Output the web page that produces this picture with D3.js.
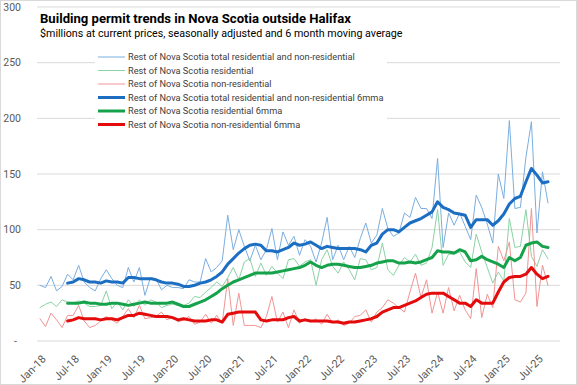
<!DOCTYPE html>
<html>
<head>
<meta charset="utf-8">
<script src="https://cdn.jsdelivr.net/npm/d3@7"></script>
<style>
  body { margin: 0; background: #fff; }
  text { font-family: Roboto, "Liberation Sans", sans-serif; }
</style>
</head>
<body>
<script>
// months Jan-18 .. Sep-25
const monthNames = ["Jan","Feb","Mar","Apr","May","Jun","Jul","Aug","Sep","Oct","Nov","Dec"]
const years = ["18","19","20","21","22","23","24","25"]
const months = []
years.forEach(yr => monthNames.forEach(m => months.push(m + "-" + yr)))
months.splice(93)

// $ millions
const totalRaw = [50,48,58,45,49,60,55,68,53,48,45,56,64,56,50,48,66,53,66,41,
  57,56,46,50,48,48,47,55,53,53,74,62,66,72,113,82,100,85,72,86,
  73,82,101,73,98,86,94,77,91,85,71,88,111,73,86,73,85,75,92,106,
  88,95,119,101,94,97,115,111,129,119,119,110,164,84,115,104,115,103,91,131,
  120,105,88,150,128,198,119,120,165,197,97,152,124]
const resRaw = [30,33,35,31,37,35,34,36,34,31,31,32,45,29,35,28,37,31,37,32,
  37,35,30,32,33,32,32,34,40,39,44,48,53,49,57,66,55,71,74,58,
  70,59,67,61,56,73,74,67,71,73,50,73,82,67,61,71,64,55,74,73,
  64,66,88,64,59,68,75,71,78,68,70,84,118,68,78,78,80,71,66,96,
  80,66,52,62,54,110,84,85,118,76,67,82,74]
const nonresRaw = [20,13,25,19,12,23,23,32,18,12,14,18,22,19,16,22,29,21,32,20,
  21,22,26,19,22,17,19,22,15,17,24,16,23,16,56,14,43,14,14,14,
  12,22,40,17,26,12,28,16,20,17,20,15,24,16,19,14,16,22,23,28,
  17,26,30,37,34,30,26,44,61,39,55,25,44,25,48,27,41,28,20,65,
  21,42,30,85,72,89,37,35,43,119,31,68,50]
const totalMA = [null,null,null,null,null,52,53,56,55,53,53,52,54,53,53,52,57,57,56,56,
  56,55,53,52,52,51,49,49,50,52,53,55,58,62,69,74,79,83,86,87,
  86,81,81,80,82,84,88,86,87,89,86,83,85,84,83,83,83,83,82,80,
  86,88,96,100,100,98,102,106,108,110,113,116,125,120,118,115,114,113,102,109,
  109,109,104,108,114,123,128,130,143,155,149,142,143]
const resMA = [null,null,null,null,null,34,34,34,35,34,34,33,33,34,34,33,32,33,34,35,
  34,34,34,34,35,33,31,31,33,35,37,40,43,47,50,53,55,57,59,61,
  61,61,61,62,63,64,65,66,68,71,68,66,68,69,69,68,67,66,66,67,
  68,70,71,72,72,70,70,71,70,71,73,75,81,80,80,79,82,80,72,73,
  76,73,71,69,66,75,72,75,86,88,89,85,84]
const nonresMA = [null,null,null,null,null,18,19,21,20,20,20,19,20,20,19,21,23,23,25,24,
  23,22,22,22,21,19,20,19,18,18,18,19,19,17,24,25,26,26,26,26,
  19,18,19,19,19,21,22,18,19,18,18,18,18,17,17,16,17,17,18,19,
  20,22,26,28,30,30,32,34,36,39,42,43,43,43,40,37,34,34,31,37,
  34,34,34,44,53,57,58,58,60,66,60,56,58]

const yTicks = [0,50,100,150,200,250,300]
const xTickLabels = months.filter((m, i) => i % 6 === 0)

const series = [
  {name: "Rest of Nova Scotia total residential and non-residential", values: totalRaw, color: "#7aaee0", width: 1},
  {name: "Rest of Nova Scotia residential", values: resRaw, color: "#8bd2a5", width: 1},
  {name: "Rest of Nova Scotia non-residential", values: nonresRaw, color: "#f09494", width: 1},
  {name: "Rest of Nova Scotia total residential and non-residential 6mma", values: totalMA, color: "#1b6ec2", width: 3},
  {name: "Rest of Nova Scotia residential 6mma", values: resMA, color: "#16a24a", width: 3},
  {name: "Rest of Nova Scotia non-residential 6mma", values: nonresMA, color: "#e30b0b", width: 3}
]

const W = 577, H = 385
const svg = d3.select("body").append("svg")
    .attr("width", W)
    .attr("height", H)

svg.append("rect")
    .attr("x", 0.5).attr("y", 0.5)
    .attr("width", W - 1).attr("height", H - 1)
    .attr("fill", "#fff")
    .attr("stroke", "#d9d9d9")

const x = d3.scalePoint().domain(months).range([40, 548])
const y = d3.scaleLinear().domain([0, 300]).range([341, 7])

// gridlines
svg.append("g")
    .selectAll("line")
    .data(yTicks)
    .enter()
    .append("line")
    .attr("x1", 37).attr("x2", 560)
    .attr("y1", d => y(d)).attr("y2", d => y(d))
    .attr("stroke", "#d9d9d9")
    .attr("stroke-width", 1)

svg.append("g")
    .selectAll("text")
    .data(yTicks)
    .enter()
    .append("text")
    .attr("x", d => d === 0 ? 17 : 21)
    .attr("y", d => y(d))
    .attr("dy", "0.35em")
    .attr("text-anchor", "end")
    .attr("font-size", "10.5px")
    .attr("fill", "#595959")
    .text(d => d === 0 ? "-" : d)

svg.append("g")
    .selectAll("text")
    .data(xTickLabels)
    .enter()
    .append("text")
    .attr("transform", d => "translate(" + (x(d) + 4) + ",357) rotate(-45)")
    .attr("dy", "0.35em")
    .attr("text-anchor", "end")
    .attr("font-size", "11px")
    .attr("fill", "#595959")
    .text(d => d)

// lines
const line = d3.line()
    .defined(d => d[1] != null)
    .x(d => x(d[0]))
    .y(d => y(d[1]))

series.forEach(s => {
    svg.append("path")
        .datum(months.map((m, i) => [m, s.values[i]]))
        .attr("fill", "none")
        .attr("stroke", s.color)
        .attr("stroke-width", s.width)
        .attr("stroke-linejoin", "round")
        .attr("stroke-linecap", "round")
        .attr("d", line)
})

// fit a text to a target width
function fit(sel, target) {
    const w = sel.node().getComputedTextLength()
    const fs = parseFloat(sel.attr("font-size"))
    sel.attr("font-size", (fs * target / w).toFixed(2) + "px")
}

// legend
const legend = svg.append("g")
legend.append("rect")
    .attr("x", 95).attr("y", 50)
    .attr("width", 292).attr("height", 82)
    .attr("fill", "#fff")

series.forEach((s, i) => {
    const ly = 57 + i * 13.5
    legend.append("line")
        .attr("x1", 98).attr("x2", 125)
        .attr("y1", ly).attr("y2", ly)
        .attr("stroke", s.color)
        .attr("stroke-width", s.width)
    const t = legend.append("text")
        .attr("x", 128)
        .attr("y", ly)
        .attr("dy", "0.35em")
        .attr("font-size", "10px")
        .attr("fill", "#404040")
        .text(s.name)
    if (i === 0) fit(t, 227)
    else t.attr("font-size", legend.select("text").attr("font-size"))
})

const title = svg.append("text")
    .attr("x", 40)
    .attr("y", 23)
    .attr("font-size", "15px")
    .attr("font-weight", "bold")
    .attr("fill", "#000")
    .text("Building permit trends in Nova Scotia outside Halifax")
fit(title, 311)

const sub = svg.append("text")
    .attr("x", 40)
    .attr("y", 37)
    .attr("font-size", "12px")
    .attr("fill", "#000")
    .text("$millions at current prices, seasonally adjusted and 6 month moving average")
fit(sub, 363)
</script>
</body>
</html>
